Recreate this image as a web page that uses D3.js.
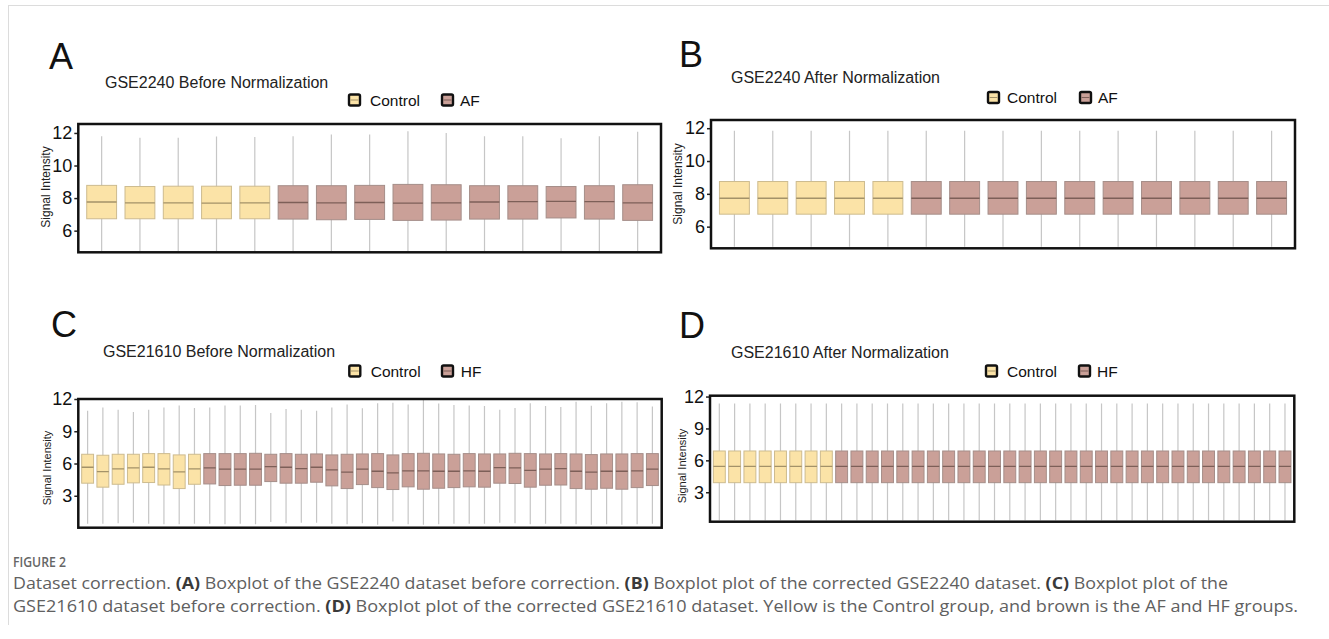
<!DOCTYPE html>
<html>
<head>
<meta charset="utf-8">
<script src="https://cdn.jsdelivr.net/npm/d3@7/dist/d3.min.js"></script>
<style>
  body { margin: 0; background: #fff; }
  svg { display: block; }
</style>
</head>
<body>
<svg id="fig" width="1329" height="639"></svg>
<script>
// ---- data ----

// panel A: GSE2240 before normalization (5 control + 10 AF)
const groupsA = ["Control","Control","Control","Control","Control",
  "AF","AF","AF","AF","AF","AF","AF","AF","AF","AF"];
const lowA  = [4.75,4.75,4.75,4.75,4.75,4.75,4.75,4.75,4.75,4.75,4.75,4.75,4.75,4.75,4.75];
const q1A   = [6.73,6.73,6.73,6.73,6.73,6.71,6.67,6.69,6.63,6.65,6.71,6.71,6.78,6.71,6.63];
const medA  = [7.76,7.71,7.71,7.69,7.71,7.73,7.71,7.73,7.69,7.71,7.76,7.78,7.80,7.78,7.71];
const q3A   = [8.78,8.71,8.73,8.73,8.73,8.76,8.76,8.78,8.84,8.82,8.76,8.76,8.71,8.76,8.82];
const highA = [11.80,11.70,11.70,11.78,11.75,11.80,11.90,11.90,12.10,12.00,11.80,11.80,11.67,11.80,12.08];

// panel B: GSE2240 after normalization
const groupsB = groupsA;
const lowB  = [4.78,4.78,4.78,4.78,4.78,4.78,4.78,4.78,4.78,4.78,4.78,4.78,4.78,4.78,4.78];
const q1B   = [6.76,6.76,6.76,6.76,6.76,6.76,6.76,6.76,6.76,6.76,6.76,6.76,6.76,6.76,6.76];
const medB  = [7.73,7.73,7.73,7.73,7.73,7.73,7.73,7.73,7.73,7.73,7.73,7.73,7.73,7.73,7.73];
const q3B   = [8.75,8.75,8.75,8.75,8.75,8.75,8.75,8.75,8.75,8.75,8.75,8.75,8.75,8.75,8.75];
const highB = [11.84,11.84,11.84,11.84,11.84,11.84,11.84,11.84,11.84,11.84,11.84,11.84,11.84,11.84,11.84];

// panel C: GSE21610 before normalization (8 control + 30 HF)
const groupsC = ["Control","Control","Control","Control","Control","Control","Control","Control",
  "HF","HF","HF","HF","HF","HF","HF","HF","HF","HF","HF","HF","HF","HF","HF",
  "HF","HF","HF","HF","HF","HF","HF","HF","HF","HF","HF","HF","HF","HF","HF"];
const lowC  = [0.40,0.40,0.45,0.50,0.40,0.35,0.35,0.40,0.40,0.35,0.40,0.35,0.55,0.45,0.50,0.50,0.40,0.35,0.45,
  0.30,0.60,0.35,0.30,0.35,0.40,0.40,0.40,0.50,0.45,0.35,0.40,0.40,0.35,0.30,0.35,0.30,0.35,0.40];
const q1C   = [4.17,3.80,4.07,4.20,4.23,4.00,3.67,4.07,4.10,3.95,3.98,3.98,4.32,4.17,4.17,4.26,3.92,3.67,4.04,
  3.76,3.58,3.83,3.61,3.70,3.76,3.83,3.80,4.17,4.14,3.80,3.98,4.00,3.67,3.61,3.70,3.61,3.76,3.95];
const medC  = [5.65,5.25,5.50,5.59,5.65,5.50,5.22,5.50,5.59,5.47,5.47,5.47,5.71,5.65,5.53,5.65,5.40,5.19,5.47,
  5.28,5.13,5.31,5.31,5.28,5.28,5.31,5.28,5.62,5.59,5.37,5.47,5.53,5.28,5.19,5.28,5.28,5.31,5.47];
const q3C   = [6.86,6.77,6.86,6.86,6.92,6.92,6.80,6.86,6.92,6.92,6.92,6.95,6.86,6.92,6.86,6.89,6.80,6.86,6.89,
  6.92,6.80,6.92,6.95,6.89,6.86,6.92,6.89,6.89,6.95,6.92,6.89,6.92,6.89,6.83,6.89,6.89,6.92,6.92];
const highC = [10.90,11.20,11.00,10.80,11.00,11.20,11.40,11.16,11.20,11.40,11.40,11.44,10.70,11.07,11.00,10.90,11.20,11.50,11.13,
  11.60,11.66,11.50,11.90,11.57,11.44,11.40,11.35,11.00,11.16,11.60,11.35,11.25,11.75,11.38,11.60,11.75,11.70,11.30];

// panel D: GSE21610 after normalization
const groupsD = groupsC;
const lowD  = [0.36,0.36,0.36,0.36,0.36,0.36,0.36,0.36,0.36,0.36,0.36,0.36,0.36,0.36,0.36,0.36,0.36,0.36,0.36,
  0.36,0.36,0.36,0.36,0.36,0.36,0.36,0.36,0.36,0.36,0.36,0.36,0.36,0.36,0.36,0.36,0.36,0.36,0.36];
const q1D   = [3.90,3.90,3.90,3.90,3.90,3.90,3.90,3.90,3.90,3.90,3.90,3.90,3.90,3.90,3.90,3.90,3.90,3.90,3.90,
  3.90,3.90,3.90,3.90,3.90,3.90,3.90,3.90,3.90,3.90,3.90,3.90,3.90,3.90,3.90,3.90,3.90,3.90,3.90];
const medD  = [5.43,5.43,5.43,5.43,5.43,5.43,5.43,5.43,5.43,5.43,5.43,5.43,5.43,5.43,5.43,5.43,5.43,5.43,5.43,
  5.43,5.43,5.43,5.43,5.43,5.43,5.43,5.43,5.43,5.43,5.43,5.43,5.43,5.43,5.43,5.43,5.43,5.43,5.43];
const q3D   = [6.88,6.88,6.88,6.88,6.88,6.88,6.88,6.88,6.88,6.88,6.88,6.88,6.88,6.88,6.88,6.88,6.88,6.88,6.88,
  6.88,6.88,6.88,6.88,6.88,6.88,6.88,6.88,6.88,6.88,6.88,6.88,6.88,6.88,6.88,6.88,6.88,6.88,6.88];
const highD = [11.35,11.35,11.35,11.35,11.35,11.35,11.35,11.35,11.35,11.35,11.35,11.35,11.35,11.35,11.35,11.35,11.35,11.35,11.35,
  11.35,11.35,11.35,11.35,11.35,11.35,11.35,11.35,11.35,11.35,11.35,11.35,11.35,11.35,11.35,11.35,11.35,11.35,11.35];

const ticksAB = [6, 8, 10, 12];
const ticksCD = [3, 6, 9, 12];

// ---- styles ----
const chartFont = "'Liberation Sans', Arial, Helvetica, sans-serif";
const fillColor = { Control: "#fbe3a7", AF: "#caa098", HF: "#caa098" };
const strokeColor = { Control: "#cdbb8f", AF: "#a58e89", HF: "#a58e89" };
const medianColor = { Control: "#a39269", AF: "#7d5f58", HF: "#7d5f58" };

// layout of each panel
const panels = [
  { letter: "A", title: "GSE2240 Before Normalization", caseName: "AF",
    letterX: 49, letterY: 69, titleX: 105, titleY: 87.5, legY: 100,
    legX: [348, 370, 441, 460],
    x0: 78.3, x1: 661, y0: 124, y1: 252.3, domain: [4.67, 12.55], ticks: ticksAB,
    labX: 46, labY: 187, labSize: 12,
    groups: groupsA, low: lowA, q1: q1A, med: medA, q3: q3A, high: highA },
  { letter: "B", title: "GSE2240 After Normalization", caseName: "AF",
    letterX: 679, letterY: 67, titleX: 731, titleY: 83, legY: 97.5,
    legX: [987, 1007, 1079, 1098],
    x0: 711, x1: 1295, y0: 120, y1: 248.3, domain: [4.68, 12.5], ticks: ticksAB,
    labX: 678, labY: 184, labSize: 12,
    groups: groupsB, low: lowB, q1: q1B, med: medB, q3: q3B, high: highB },
  { letter: "C", title: "GSE21610 Before Normalization", caseName: "HF",
    letterX: 51, letterY: 337, titleX: 103, titleY: 357.4, legY: 371,
    legX: [348.3, 370.7, 441, 460.7],
    x0: 78.3, x1: 661.7, y0: 399, y1: 527.7, domain: [0.03, 12.0], ticks: ticksCD,
    labX: 47, labY: 468, labSize: 11,
    groups: groupsC, low: lowC, q1: q1C, med: medC, q3: q3C, high: highC },
  { letter: "D", title: "GSE21610 After Normalization", caseName: "HF",
    letterX: 679, letterY: 338, titleX: 731, titleY: 358.4, legY: 371,
    legX: [985, 1007, 1078, 1097],
    x0: 710, x1: 1294.3, y0: 395.7, y1: 521.7, domain: [0.23, 12.08], ticks: ticksCD,
    labX: 682.5, labY: 466, labSize: 11,
    groups: groupsD, low: lowD, q1: q1D, med: medD, q3: q3D, high: highD }
];

const svg = d3.select("#fig");
const defs = svg.append("defs");

// light page borders
svg.append("line").attr("x1", 8).attr("x2", 1329).attr("y1", 5.5).attr("y2", 5.5)
  .attr("stroke", "#dcdcdc").attr("stroke-width", 1);
svg.append("line").attr("x1", 8.5).attr("x2", 8.5).attr("y1", 5).attr("y2", 625)
  .attr("stroke", "#dcdcdc").attr("stroke-width", 1);

panels.forEach(drawPanel);

function drawPanel(p) {
  const g = svg.append("g").style("font-family", chartFont);
  const rows = p.q1.map((v, i) => ({
    i: i, group: p.groups[i], low: p.low[i], q1: p.q1[i], med: p.med[i], q3: p.q3[i], high: p.high[i]
  }));

  const x = d3.scaleBand().domain(d3.range(rows.length)).range([p.x0, p.x1])
    .paddingInner(0.22).paddingOuter(0.22);
  const y = d3.scaleLinear().domain(p.domain).range([p.y1, p.y0]);
  const cx = (d) => x(d.i) + x.bandwidth() / 2;

  // panel letter and title
  g.append("text").attr("x", p.letterX).attr("y", p.letterY)
    .attr("font-size", 36).attr("fill", "#111").text(p.letter);
  g.append("text").attr("x", p.titleX).attr("y", p.titleY)
    .attr("font-size", 16).attr("fill", "#222").text(p.title);

  // legend
  const leg = [["Control", p.legX[0], p.legX[1]], [p.caseName, p.legX[2], p.legX[3]]];
  leg.forEach(([name, sx, tx]) => {
    g.append("rect").attr("x", sx + 1).attr("y", p.legY - 5.5).attr("width", 11).attr("height", 11)
      .attr("rx", 1.5).attr("fill", fillColor[name]).attr("stroke", "#111").attr("stroke-width", 2.4);
    g.append("line").attr("x1", sx + 2.5).attr("x2", sx + 10.5).attr("y1", p.legY).attr("y2", p.legY)
      .attr("stroke", medianColor[name]).attr("stroke-width", 1);
    g.append("text").attr("x", tx).attr("y", p.legY + 5.5)
      .attr("font-size", 15.5).attr("fill", "#111").text(name);
  });

  // clip the marks to the frame
  const clipId = "clip" + p.letter;
  defs.append("clipPath").attr("id", clipId).append("rect")
    .attr("x", p.x0).attr("y", p.y0).attr("width", p.x1 - p.x0).attr("height", p.y1 - p.y0);
  const marks = g.append("g").attr("clip-path", "url(#" + clipId + ")");

  // whiskers
  marks.selectAll("line.whisker").data(rows).join("line")
    .attr("class", "whisker")
    .attr("x1", cx).attr("x2", cx)
    .attr("y1", (d) => y(d.low)).attr("y2", (d) => y(d.high))
    .attr("stroke", "#c6c6c6").attr("stroke-width", 1.2);

  // boxes
  marks.selectAll("rect.box").data(rows).join("rect")
    .attr("class", "box")
    .attr("x", (d) => x(d.i)).attr("width", x.bandwidth())
    .attr("y", (d) => y(d.q3)).attr("height", (d) => y(d.q1) - y(d.q3))
    .attr("fill", (d) => fillColor[d.group])
    .attr("stroke", (d) => strokeColor[d.group]).attr("stroke-width", 1);

  // medians
  marks.selectAll("line.median").data(rows).join("line")
    .attr("class", "median")
    .attr("x1", (d) => x(d.i)).attr("x2", (d) => x(d.i) + x.bandwidth())
    .attr("y1", (d) => y(d.med)).attr("y2", (d) => y(d.med))
    .attr("stroke", (d) => medianColor[d.group]).attr("stroke-width", 1.3);

  // y axis
  const axis = g.append("g").attr("transform", "translate(" + p.x0 + ",0)")
    .call(d3.axisLeft(y).tickValues(p.ticks).tickSize(4).tickPadding(2).tickFormat(d3.format("d")));
  axis.select(".domain").remove();
  axis.selectAll(".tick line").attr("stroke", "#222").attr("stroke-width", 1.5);
  axis.selectAll(".tick text").attr("font-size", 18).attr("fill", "#111")
    .style("font-family", chartFont);

  g.append("text")
    .attr("transform", "translate(" + p.labX + "," + p.labY + ") rotate(-90)")
    .attr("text-anchor", "middle").attr("dy", "0.35em")
    .attr("font-size", p.labSize).attr("fill", "#222").text("Signal Intensity");

  // frame
  g.append("rect").attr("x", p.x0).attr("y", p.y0)
    .attr("width", p.x1 - p.x0).attr("height", p.y1 - p.y0)
    .attr("fill", "none").attr("stroke", "#111").attr("stroke-width", 2.5);
}

// ---- caption ----
const capFont = "'Open Sans', 'Noto Sans', sans-serif";
const cap = svg.append("g").style("font-family", capFont);
cap.append("text").attr("x", 13).attr("y", 567).attr("font-size", 13.5)
  .attr("font-weight", 600).attr("fill", "#666")
  .attr("textLength", 53).attr("lengthAdjust", "spacingAndGlyphs").text("FIGURE 2");

const capLines = [
  [["Dataset correction. ", 0], ["(A)", 1], [" Boxplot of the GSE2240 dataset before correction. ", 0], ["(B)", 1],
   [" Boxplot plot of the corrected GSE2240 dataset. ", 0], ["(C)", 1], [" Boxplot plot of the", 0]],
  [["GSE21610 dataset before correction. ", 0], ["(D)", 1],
   [" Boxplot plot of the corrected GSE21610 dataset. Yellow is the Control group, and brown is the AF and HF groups.", 0]]
];
const capBase = [589, 612];
const capWidth = [1215, 1285];
capLines.forEach((parts, li) => {
  const t = cap.append("text").attr("x", 13).attr("y", capBase[li])
    .attr("font-size", 15.5).attr("fill", "#606060")
    .attr("textLength", capWidth[li]).attr("lengthAdjust", "spacingAndGlyphs");
  parts.forEach(([s, b]) => {
    t.append("tspan").attr("font-weight", b ? 700 : 400)
      .attr("fill", b ? "#3a3a3a" : "#606060").text(s);
  });
});
</script>
</body>
</html>
